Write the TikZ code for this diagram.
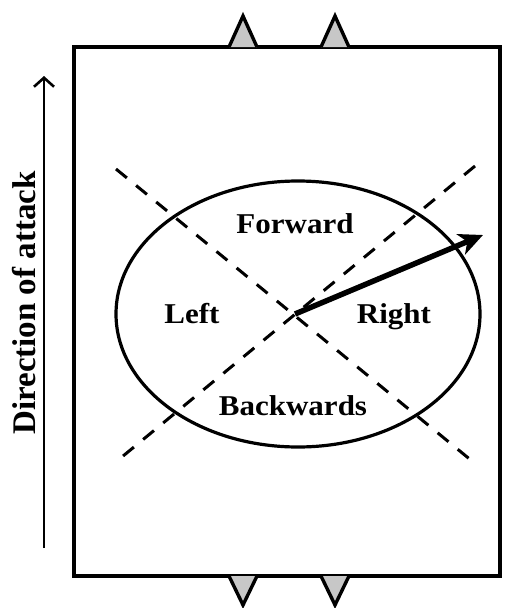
\documentclass[tikz,border=0pt]{standalone}
\usepackage{fontspec}
\setmainfont{Liberation Serif}
\usetikzlibrary{arrows.meta,shapes.geometric}
\begin{document}
\begin{tikzpicture}[x=1pt,y=-1pt,
  lbl/.style={font=\fontsize{28.7}{32}\selectfont\bfseries, inner sep=0pt, xscale=1.08, anchor=base},
  tri/.style={draw=black, fill=black!22, line width=3.4pt, line join=miter},
  dsh/.style={line width=3pt, dash pattern=on 14pt off 12pt}]
\useasboundingbox (0,0) rectangle (509,608);
% field
\draw[line width=3.4pt] (74,47) rectangle (500,576);
% goal markers
\draw[tri] (229,47) -- (243,16) -- (257,47);
\draw[tri] (321,47) -- (335,16) -- (349,47);
\draw[tri] (229,576) -- (243,605) -- (257,576);
\draw[tri] (321,576) -- (335,605) -- (349,576);
% ellipse
\node[draw, line width=3.2pt, ellipse, minimum width=364pt, minimum height=266pt, inner sep=0pt] (ell) at (298,314) {};
% dashed diagonals
\coordinate (d1a) at (116,169);
\coordinate (d1b) at (472,461);
\coordinate (d2a) at (475,166);
\coordinate (d2b) at (117,461);
\draw[dsh] (d1a) -- (d1b);
\draw[dsh] (d2a) -- (d2b);
% labels
\node[lbl] (fw) at (295,233) {Forward};
\node[lbl] (lf) at (192,323) {Left};
\node[lbl] (rt) at (394,323) {Right};
\node[lbl] (bw) at (293,415) {Backwards};
% thick arrow
\coordinate (c) at (295,314);
\coordinate (tip) at (483,235);
\draw[line width=5.5pt, -{Stealth[length=24pt,width=22pt,inset=7pt]}] (c) -- (tip);
% direction of attack
\coordinate (da) at (44,548);
\coordinate (db) at (44,76);
\draw[line width=2.6pt, -{Straight Barb[length=9pt,width=20pt,line width=2.6pt]}] (da) -- (db);
\node[font=\fontsize{33}{36}\selectfont\bfseries, inner sep=0pt, rotate=90, anchor=base] (dir) at (35,303) {Direction of attack};
\end{tikzpicture}
\end{document}
